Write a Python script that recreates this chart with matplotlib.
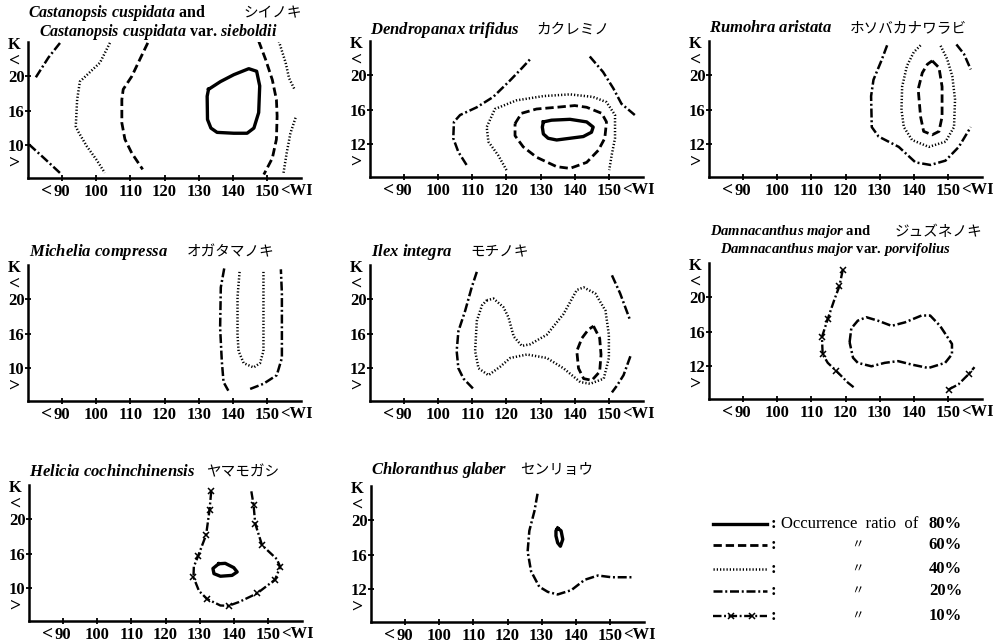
import matplotlib
matplotlib.use("Agg")
import matplotlib.pyplot as plt

plt.rcParams['font.family'] = ['Liberation Serif', 'Noto Sans CJK JP']
plt.rcParams['font.weight'] = 'bold'
plt.rcParams['mathtext.fontset'] = 'custom'
plt.rcParams['mathtext.it'] = 'Liberation Serif:italic:bold'
plt.rcParams['mathtext.rm'] = 'Liberation Serif:bold'

W, H = 1001, 642

# axis ticks
wi_ticks = [90, 100, 110, 120, 130, 140, 150]
k_ticks = [12, 16, 20]
k_labels_a = ['10', '16', '20']
k_labels_b = ['12', '16', '20']

# contour lines: (WI values, K values)
# Castanopsis cuspidata
cast_80 = ([132.9, 136.4, 140.3, 144.7, 147.0, 147.9, 147.6, 146.2, 144.2, 140.3, 135.4, 133.6, 132.6, 132.5],
           [18.5, 19.4, 20.2, 20.9, 20.6, 18.9, 15.8, 14.0, 13.4, 13.4, 13.5, 14.0, 15.0, 17.7])
cast_60a = ([115.1, 112.8, 110.4, 107.9, 107.5, 107.5, 108.4, 110.4, 113.6],
            [23.9, 22.0, 20.0, 18.5, 17.3, 14.6, 12.7, 11.1, 9.2])
cast_60b = ([147.6, 149.6, 151.6, 152.8, 153.0, 152.8, 151.6, 149.1],
            [24.1, 22.0, 19.6, 17.3, 15.4, 12.7, 10.5, 8.6])
cast_40a = ([104.0, 101.1, 95.2, 94.4, 94.0, 94.7, 97.2, 100.1, 102.5],
            [23.9, 21.6, 19.4, 17.3, 14.2, 13.6, 11.9, 10.3, 8.8])
cast_40b = ([153.5, 155.5, 156.5, 158.1], [24.1, 21.6, 19.8, 18.5])
cast_40c = ([158.4, 156.9, 155.8, 154.8], [15.2, 13.4, 11.1, 8.6])
cast_20a = ([82.3, 86.0, 89.8], [19.9, 22.2, 24.1])
cast_20b = ([80.3, 85.0, 89.6], [12.1, 10.4, 8.7])

# Dendropanax trifidus
dend_80 = ([130.8, 133.2, 138.6, 143.5, 145.4, 144.9, 142.5, 138.6, 134.7, 132.2, 130.8, 130.5],
           [14.6, 14.8, 14.9, 14.6, 14.0, 13.4, 12.9, 12.7, 12.5, 12.7, 13.2, 14.0])
dend_60 = ([122.5, 124.4, 128.8, 134.7, 140.0, 143.5, 147.9, 149.3, 148.8, 146.9, 143.5, 138.6, 134.7, 128.8, 124.9, 122.5],
           [14.4, 15.6, 16.1, 16.3, 16.5, 16.3, 15.6, 14.6, 12.7, 11.3, 9.9, 9.2, 9.4, 10.5, 11.7, 13.0])
dend_40 = ([120.0, 117.6, 114.7, 114.2, 116.6, 122.9, 130.8, 138.6, 145.4, 149.3, 151.8, 151.8, 150.8, 150.1],
           [9.0, 10.7, 12.3, 14.0, 16.1, 17.1, 17.6, 17.8, 17.5, 16.9, 15.4, 12.7, 10.7, 9.0])
dend_20a = ([108.3, 105.9, 104.4, 104.6, 106.4, 111.3, 116.1, 121.0, 124.4, 127.2],
            [9.6, 11.1, 12.7, 14.6, 15.4, 16.3, 17.5, 19.4, 20.8, 22.0])
dend_20b = ([144.4, 148.3, 151.3, 153.7, 157.6], [22.2, 20.4, 18.5, 16.7, 15.4])

# Rumohra aristata
rumo_60 = ([145.4, 147.4, 148.3, 148.3, 147.4, 145.4, 142.9, 142.0, 141.3, 142.5, 144.0],
           [21.7, 20.9, 18.7, 15.2, 13.5, 13.1, 13.5, 15.2, 18.4, 20.3, 21.3])
rumo_40 = ([142.0, 140.0, 138.0, 136.6, 136.4, 137.1, 139.5, 144.4, 149.3, 151.8, 152.1, 151.3, 149.8, 147.8],
           [23.5, 22.7, 21.1, 18.7, 16.0, 14.0, 12.5, 11.7, 12.3, 14.0, 17.2, 19.9, 21.9, 23.5])
rumo_20a = ([132.2, 130.5, 128.2, 127.5, 127.7, 129.7, 135.6, 140.5, 144.9, 149.3, 153.2, 156.7],
            [23.5, 21.7, 19.5, 17.6, 14.0, 12.9, 11.7, 9.9, 9.6, 10.1, 11.7, 14.0])
rumo_20b = ([152.5, 154.7, 156.7], [23.6, 22.5, 20.7])

# Michelia compressa
mich_40 = ([142.0, 141.4, 141.4, 141.7, 143.2, 146.1, 148.0, 149.0, 149.0, 149.0],
           [23.2, 20.3, 15.9, 14.0, 12.6, 12.1, 12.6, 14.0, 18.7, 23.2])
mich_20a = ([137.5, 136.5, 136.3, 136.8, 137.3, 138.7], [23.6, 21.4, 16.7, 12.8, 10.4, 9.4])
mich_20b = ([145.1, 149.0, 152.9, 154.4, 154.4, 154.4, 154.1], [9.6, 10.2, 11.2, 13.2, 16.7, 20.7, 23.5])

# Ilex integra
ilex_60 = ([145.5, 147.3, 147.7, 147.3, 145.0, 142.6, 141.1, 140.6, 142.1, 144.0],
           [16.9, 15.5, 13.6, 11.6, 10.6, 10.8, 12.0, 14.0, 15.5, 16.5])
ilex_40 = ([114.2, 116.2, 119.1, 120.6, 122.1, 124.5, 127.0, 131.8, 136.7, 140.6, 142.6, 146.0, 149.0, 150.0,
            150.0, 148.5, 144.5, 141.6, 136.7, 131.8, 126.0, 121.1, 118.2, 114.7, 111.8, 110.8, 111.3, 112.8],
           [19.9, 20.1, 19.1, 17.9, 15.7, 14.6, 14.8, 15.9, 18.3, 21.1, 21.4, 20.7, 18.7, 15.9,
            13.2, 10.8, 10.2, 10.4, 12.0, 13.2, 13.6, 13.2, 12.2, 11.2, 12.0, 14.0, 17.5, 19.3])
ilex_20a = ([111.3, 109.8, 107.9, 105.9, 105.4, 105.9, 107.4, 110.3], [23.2, 21.4, 18.7, 16.3, 14.0, 12.0, 10.8, 9.6])
ilex_20b = ([150.9, 153.3, 156.3], [22.8, 20.7, 17.5])
ilex_20c = ([156.3, 154.3, 152.4, 150.9], [13.4, 11.2, 10.0, 9.2])

# Damnacanthus major
damn_20 = ([121.2, 121.7, 123.6, 126.1, 129.5, 133.5, 137.4, 142.3, 144.8, 147.7, 151.2, 151.2, 149.2, 144.3,
            139.4, 135.4, 131.5, 127.6, 123.6, 122.2],
           [14.8, 16.4, 17.3, 17.7, 17.3, 16.7, 17.1, 17.9, 17.9, 16.7, 14.6, 13.4, 12.4, 11.8,
            12.2, 12.6, 12.4, 12.0, 12.4, 13.0])
damn_10a = ([119.2, 118.2, 116.7, 114.8, 113.1, 113.3, 114.8, 117.2, 120.7, 122.6],
            [23.2, 21.3, 19.7, 17.5, 15.4, 13.4, 12.4, 11.5, 10.1, 9.5])
damn_10b = ([150.2, 153.1, 156.1, 157.8], [9.3, 9.9, 11.1, 11.9])

# Helicia cochinchinensis
heli_80 = ([135.6, 137.5, 140.0, 141.0, 139.5, 136.1, 134.2, 133.9],
           [14.85, 14.9, 14.4, 13.9, 13.5, 13.4, 13.7, 14.3])
heli_10 = ([133.4, 132.9, 131.9, 129.6, 128.3, 128.2, 129.8, 132.2, 136.1, 138.5, 141.5, 146.8, 152.1, 153.6,
            152.6, 148.3, 146.3, 145.8, 145.1],
           [23.25, 21.1, 18.2, 15.8, 14.5, 13.3, 11.7, 10.75, 10.0, 9.97, 10.4, 11.4, 13.0, 14.5,
            15.4, 17.0, 19.5, 21.7, 23.4])

# Chloranthus glaber
chlo_80 = ([134.7, 135.7, 136.2, 135.5, 134.7, 134.2, 134.2], [19.1, 18.8, 17.8, 17.0, 17.4, 18.2, 18.8])
chlo_20 = ([128.8, 127.9, 126.4, 125.9, 126.9, 129.3, 131.8, 134.7, 138.7, 142.6, 146.5, 150.5, 156.9],
           [23.1, 21.1, 18.8, 16.4, 14.1, 12.3, 11.7, 11.4, 11.9, 13.1, 13.6, 13.4, 13.4])

legend_levels = [80, 60, 40, 20, 10]

STYLE = {
    80: dict(ls='-', lw=2.4),
    60: dict(ls=(0, (3.0, 1.4)), lw=2.0),
    40: dict(ls=(0, (0.5, 0.8)), lw=1.8),
    20: dict(ls=(0, (3.6, 1.1, 0.8, 1.1)), lw=1.8),
    10: dict(ls=(0, (3.6, 1.1, 0.8, 1.1)), lw=1.7, marker='x', ms=4, mew=1.1),
}

# panel layout: left px, bottom px, top px, y labels, curves
panels = [
    (28, 178, 42, k_labels_a, [(cast_80, 80, True), (cast_60a, 60, False), (cast_60b, 60, False),
                               (cast_40a, 40, False), (cast_40b, 40, False), (cast_40c, 40, False),
                               (cast_20a, 20, False), (cast_20b, 20, False)]),
    (370, 177, 41, k_labels_b, [(dend_80, 80, True), (dend_60, 60, True), (dend_40, 40, False),
                                (dend_20a, 20, False), (dend_20b, 20, False)]),
    (709, 177, 41, k_labels_b, [(rumo_60, 60, True), (rumo_40, 40, False), (rumo_20a, 20, False),
                                (rumo_20b, 20, False)]),
    (28, 401, 265, k_labels_a, [(mich_40, 40, False), (mich_20a, 20, False), (mich_20b, 20, False)]),
    (370, 401, 265, k_labels_b, [(ilex_60, 60, True), (ilex_40, 40, True), (ilex_20a, 20, False),
                                 (ilex_20b, 20, False), (ilex_20c, 20, False)]),
    (709, 399, 263, k_labels_b, [(damn_20, 20, True), (damn_10a, 10, False), (damn_10b, 10, False)]),
    (29, 621, 485, k_labels_a, [(heli_80, 80, True), (heli_10, 10, False)]),
    (371, 622, 486, k_labels_b, [(chlo_80, 80, True), (chlo_20, 20, False)]),
]

# titles: (x px, y px, text, size)
latin_titles = [
    (28, 13, r'$\mathit{Castanopsis}$ $\mathit{cuspidata}$ and', 11.5),
    (39, 32, r'$\mathit{Castanopsis}$ $\mathit{cuspidata}$ var. $\mathit{sieboldii}$', 11.5),
    (370, 30, r'$\mathit{Dendropanax}$ $\mathit{trifidus}$', 12),
    (709, 28, r'$\mathit{Rumohra}$ $\mathit{aristata}$', 12),
    (29, 252, r'$\mathit{Michelia}$ $\mathit{compressa}$', 12),
    (371, 252, r'$\mathit{Ilex}$ $\mathit{integra}$', 12),
    (710, 232, r'$\mathit{Damnacanthus}$ $\mathit{major}$ and', 10.5),
    (720, 249, r'$\mathit{Damnacanthus}$ $\mathit{major}$ var. $\mathit{porvifolius}$', 10.5),
    (29, 472, r'$\mathit{Helicia}$ $\mathit{cochinchinensis}$', 12),
    (371, 470, r'$\mathit{Chloranthus}$ $\mathit{glaber}$', 12),
]
jp_titles = [
    (243, 13, 'シイノキ'),
    (536, 30, 'カクレミノ'),
    (850, 28, 'ホソバカナワラビ'),
    (187, 252, 'オガタマノキ'),
    (470, 252, 'モチノキ'),
    (895, 232, 'ジュズネノキ'),
    (206, 472, 'ヤマモガシ'),
    (520, 470, 'センリョウ'),
]


def draw_curve(ax, curve, level, closed):
    wi, k = list(curve[0]), list(curve[1])
    if closed:
        wi.append(wi[0])
        k.append(k[0])
    extra = {'markevery': 0.075} if level == 10 else {}
    ax.plot(wi, k, color='black', solid_joinstyle='round', dash_joinstyle='round',
            **STYLE[level], **extra)


def setup_axes(ax, ylabels):
    ax.set_xlim(80, 160)
    ax.set_ylim(8.2, 24.0)
    for s in ['top', 'right']:
        ax.spines[s].set_visible(False)
    for s in ['left', 'bottom']:
        ax.spines[s].set_linewidth(1.8)
    ax.set_xticks(wi_ticks)
    ax.set_xticklabels([str(v) for v in wi_ticks])
    ax.set_yticks(k_ticks)
    ax.set_yticklabels(ylabels)
    ax.tick_params(direction='inout', length=5, width=1.3, labelsize=12)
    ax.tick_params(axis='x', pad=1.5)
    ax.tick_params(axis='y', pad=0)
    ax.patch.set_alpha(0)
    xt = ax.get_xaxis_transform()
    yt = ax.get_yaxis_transform()
    ax.annotate('<', xy=(90, 0), xycoords=xt, xytext=(-7, -3.5), textcoords='offset points',
                ha='right', va='top', fontsize=14)
    ax.annotate('<WI', xy=(150, 0), xycoords=xt, xytext=(9.5, -3.5), textcoords='offset points',
                ha='left', va='top', fontsize=12)
    ax.annotate('K', xy=(0, 23.7), xycoords=yt, xytext=(-10, 0), textcoords='offset points',
                ha='center', va='center', fontsize=12)
    ax.annotate('<', xy=(0, 21.8), xycoords=yt, xytext=(-10, 0), textcoords='offset points',
                ha='center', va='center', fontsize=14)
    ax.annotate('>', xy=(0, 9.95), xycoords=yt, xytext=(-10, 0), textcoords='offset points',
                ha='center', va='center', fontsize=14)


fig = plt.figure(figsize=(W / 100, H / 100), dpi=100)
fig.patch.set_facecolor('white')

for left, bottom, top, ylabels, curves in panels:
    ax = fig.add_axes([left / W, 1 - bottom / H, 273 / W, (bottom - top) / H])
    setup_axes(ax, ylabels)
    for curve, level, closed in curves:
        draw_curve(ax, curve, level, closed)

for x, y, txt, size in latin_titles:
    fig.text(x / W, 1 - y / H, txt, fontsize=size, family='Liberation Serif',
             ha='left', va='center')
for x, y, txt in jp_titles:
    fig.text(x / W, 1 - y / H, txt, fontsize=10.5, family='Noto Sans CJK JP',
             weight='normal', ha='left', va='center')

# legend
lg = fig.add_axes([0, 0, 1, 1])
lg.set_xlim(0, W)
lg.set_ylim(H, 0)
lg.axis('off')
row_y = [524, 545, 569, 591, 616]
for level, y in zip(legend_levels, row_y):
    if level == 10:
        lg.plot([713, 731, 752, 767], [y] * 4, color='black', markevery=[1, 2], **STYLE[level])
    else:
        lg.plot([713, 767], [y, y], color='black', **STYLE[level])
    lg.text(773, y, ':', fontsize=12, ha='center', va='center')
    if level == 80:
        lg.text(781, y, 'Occurrence  ratio  of', fontsize=12, weight='normal', ha='left', va='center')
    else:
        lg.text(857, y, '〃', fontsize=9, family='Noto Sans CJK JP', weight='normal',
                ha='center', va='center')
    lg.text(962, y, f'{level}%', fontsize=12, ha='right', va='center')

fig.savefig('out.png', dpi=100, facecolor='white')
